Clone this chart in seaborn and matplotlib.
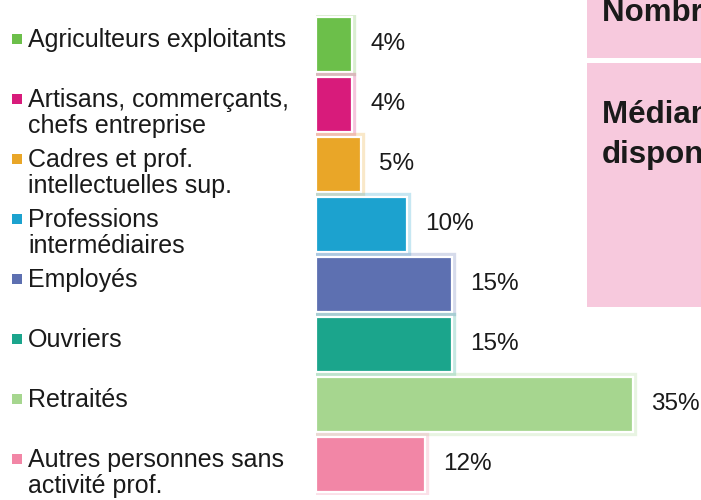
import matplotlib
matplotlib.use("Agg")
import matplotlib.pyplot as plt
import matplotlib.patheffects as pe
import matplotlib.transforms as mtransforms
from matplotlib.patches import Rectangle
import pandas as pd
import seaborn as sns

# --- data ---
categories = [
    "Agriculteurs exploitants",
    "Artisans, commerçants,\nchefs entreprise",
    "Cadres et prof.\nintellectuelles sup.",
    "Professions\nintermédiaires",
    "Employés",
    "Ouvriers",
    "Retraités",
    "Autres personnes sans\nactivité prof.",
]
shares = [4, 4, 5, 10, 15, 15, 35, 12]
share_labels = [f"{v}%" for v in shares]
colors = ["#6cbf4a", "#d81b7b", "#e9a628", "#1ca2cf",
          "#5d70b1", "#1ba58c", "#a6d68f", "#f286a6"]
box_lines = ["Nombre de ménages", "Médiane du revenu", "disponible"]

sns.set_theme(style="white")
plt.rcParams["font.family"] = ["Liberation Sans", "DejaVu Sans"]
TXT = "#1a1a1a"

W, H = 701, 500
fig = plt.figure(figsize=(W / 100, H / 100), dpi=100)
fig.patch.set_facecolor("white")

# bars axes: left edge at x=316px, 8 rows of 60px from y=14.5 down
ax = fig.add_axes([316 / W, 5.5 / H, (W - 316) / W, 480 / H])
df = pd.DataFrame({"cat": categories, "share": shares})
sns.barplot(data=df, x="share", y="cat", hue="cat", palette=colors,
            saturation=1, orient="h", width=0.93, edgecolor="white",
            linewidth=1.6, legend=False, ax=ax)

# soft coloured glow around each bar
for patch in ax.patches:
    c = patch.get_facecolor()
    patch.set_path_effects([pe.Stroke(linewidth=6, foreground=c, alpha=0.25),
                            pe.Normal()])

for cont in ax.containers:
    labs = [share_labels[int(round(b.get_y() + b.get_height() / 2))]
            for b in cont]
    ax.bar_label(cont, labels=labs, padding=13, fontsize=17.5, color=TXT)

# legend-like labels on the left, aligned with each bar row
base = mtransforms.blended_transform_factory(fig.transFigure, ax.transData)
sq = base + mtransforms.ScaledTranslation(0, 0.055, fig.dpi_scale_trans)
for i, (lab, c) in enumerate(zip(categories, colors)):
    ax.plot([17 / W], [i], marker="s", markersize=7.2, color=c,
            markeredgewidth=0, transform=sq, clip_on=False, linestyle="none")
    for k, line in enumerate(lab.split("\n")):
        off = base + mtransforms.ScaledTranslation(0, -(2.5 + 26 * k) / 100,
                                                   fig.dpi_scale_trans)
        ax.text(28 / W, i, line, transform=off, fontsize=18, color=TXT,
                va="baseline", ha="left", clip_on=False)

ax.set_xlim(0, (W - 316) / 9.06)
ax.set_ylim(len(categories) - 0.5, -0.5)
ax.axis("off")

# pink info box on the right (cut by the frame)
pink = "#f7c9dd"
fig.add_artist(Rectangle((587 / W, 1 - 58 / H), 1, 58 / H,
                         transform=fig.transFigure, color=pink, lw=0))
fig.add_artist(Rectangle((587 / W, 1 - 307 / H), 1, 244 / H,
                         transform=fig.transFigure, color=pink, lw=0))
for txt, yb in zip(box_lines, [21, 123, 163]):
    fig.text(602 / W, 1 - yb / H, txt, fontsize=22.5, fontweight="bold",
             color=TXT, va="baseline")

fig.savefig("out.png", dpi=100)
